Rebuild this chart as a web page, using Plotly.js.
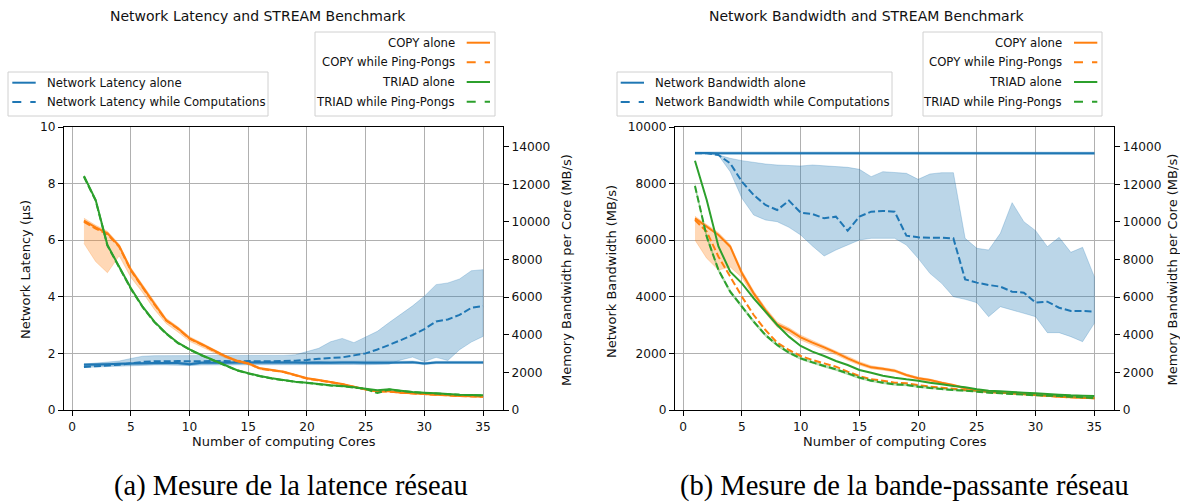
<!DOCTYPE html>
<html>
<head>
<meta charset="utf-8">
<script src="https://cdn.plot.ly/plotly-3.0.1.min.js"></script>
<style>
  html, body { margin: 0; padding: 0; background: #fff; }
  #chart { width: 1180px; height: 502px; }
</style>
</head>
<body>
<div id="chart"></div>
<script>
// ---------- data ----------
const cores = [1,2,3,4,5,6,7,8,9,10,11,12,13,14,15,16,17,18,19,20,21,22,23,24,25,26,27,28,29,30,31,32,33,34,35];

// (a) latency plot - left axis: network latency (µs)
const latAlone = [1.60,1.61,1.62,1.63,1.64,1.65,1.66,1.66,1.66,1.62,1.67,1.67,1.67,1.68,1.68,1.68,1.68,1.68,1.68,1.67,1.68,1.67,1.68,1.68,1.67,1.67,1.67,1.68,1.69,1.64,1.68,1.68,1.68,1.68,1.68];
const latAloneHi = [1.64,1.65,1.66,1.67,1.68,1.69,1.70,1.70,1.70,1.66,1.71,1.71,1.71,1.72,1.72,1.72,1.72,1.72,1.72,1.71,1.72,1.71,1.72,1.72,1.71,1.71,1.71,1.72,1.73,1.68,1.72,1.72,1.72,1.72,1.72];
const latAloneLo = [1.56,1.57,1.58,1.59,1.60,1.61,1.62,1.62,1.62,1.58,1.63,1.63,1.63,1.64,1.64,1.64,1.64,1.64,1.64,1.63,1.64,1.63,1.64,1.64,1.63,1.63,1.63,1.64,1.65,1.60,1.64,1.64,1.64,1.64,1.64];
const latComp  = [1.52,1.55,1.57,1.60,1.65,1.70,1.72,1.72,1.73,1.72,1.72,1.73,1.73,1.72,1.73,1.72,1.72,1.73,1.74,1.77,1.81,1.84,1.86,1.93,2.00,2.14,2.30,2.47,2.65,2.86,3.13,3.20,3.36,3.61,3.67];
const latCompHi = [1.62,1.65,1.68,1.73,1.82,1.90,1.92,1.92,1.92,1.92,1.92,1.92,1.92,1.92,1.92,1.92,1.92,1.93,1.95,2.06,2.18,2.41,2.53,2.38,2.59,2.78,3.09,3.39,3.68,4.02,4.43,4.49,4.63,4.92,4.96];
const latCompLo = [1.50,1.52,1.53,1.55,1.57,1.58,1.59,1.59,1.59,1.57,1.59,1.60,1.60,1.60,1.60,1.60,1.60,1.60,1.60,1.60,1.60,1.60,1.61,1.61,1.60,1.60,1.62,1.77,1.87,1.71,1.86,1.75,2.13,2.40,2.60];
// (a) right axis: memory bandwidth per core (MB/s)
const copyAloneA = [10070,9714,9395,8720,7450,6550,5650,4785,4343,3812,3509,3190,2871,2623,2481,2216,2127,2038,1861,1685,1595,1489,1382,1241,1098,992,992,922,886,851,815,780,744,727,709];
const copyPingA  = [10000,9650,9340,8680,7420,6520,5620,4760,4320,3790,3490,3170,2860,2610,2470,2200,2110,2020,1850,1670,1580,1480,1370,1230,1090,980,980,915,880,845,810,775,740,722,705];
const copyHiA    = [10200,9820,9500,8820,7560,6650,5750,4880,4430,3900,3580,3260,2930,2680,2530,2260,2170,2080,1900,1720,1630,1520,1410,1270,1120,1020,1010,945,905,870,835,800,763,745,727];
const copyLoA    = [8860,7890,7300,8200,7050,6250,5350,4600,4150,3650,3380,3080,2780,2550,2410,2150,2070,1990,1810,1640,1550,1450,1340,1200,1060,950,960,895,860,825,790,755,720,705,685];
const triadAloneA = [12440,11166,8773,7620,6470,5493,4695,4077,3580,3226,2924,2659,2393,2127,1950,1808,1685,1595,1506,1453,1382,1311,1276,1205,1134,1050,1098,1028,957,922,886,851,815,798,780];
const triadPingA  = [12400,11130,8740,7590,6440,5470,4670,4060,3560,3210,2910,2645,2380,2115,1940,1795,1675,1585,1495,1440,1370,1300,1265,1195,1120,900,1085,1015,945,910,875,840,805,788,770];

// (b) bandwidth plot - left axis: network bandwidth (MB/s)
const bwAlone   = [9080,9080,9075,9075,9075,9072,9072,9072,9072,9072,9072,9072,9072,9072,9072,9072,9072,9072,9072,9072,9072,9072,9072,9072,9072,9072,9072,9072,9072,9072,9072,9072,9072,9072,9072];
const bwAloneHi = [9120,9120,9115,9115,9115,9112,9112,9112,9112,9112,9112,9112,9112,9112,9112,9112,9112,9112,9112,9112,9112,9112,9112,9112,9112,9112,9112,9112,9112,9112,9112,9112,9112,9112,9112];
const bwAloneLo = [9040,9040,9035,9035,9035,9032,9032,9032,9032,9032,9032,9032,9032,9032,9032,9032,9032,9032,9032,9032,9032,9032,9032,9032,9032,9032,9032,9032,9032,9032,9032,9032,9032,9032,9032];
const bwComp   = [9070,9070,9010,8717,8068,7597,7244,7067,7397,6973,6926,6773,6832,6337,6832,7008,7032,7008,6160,6101,6089,6089,6066,4617,4500,4417,4358,4181,4146,3793,3828,3615,3498,3498,3475];
const bwCompHi = [9080,9080,9010,8894,8811,8740,8693,8657,8634,8622,8657,8622,8598,8575,8504,8245,8422,8386,8363,8151,8339,8386,8386,6066,5713,5654,6243,7326,6654,6337,5772,6101,5572,5748,4711];
const bwCompLo = [9060,9060,9000,8422,7480,6890,6714,6654,6455,6184,5795,5442,5654,5830,6007,6066,6066,6066,5830,5359,4829,4476,4004,3911,3793,3298,3651,3534,3416,3298,2733,2733,2591,2415,3064];
// (b) right axis: memory bandwidth per core (MB/s)
const copyAloneB = [10190,9748,9305,8685,7266,6203,5317,4555,4254,3864,3580,3332,3049,2747,2481,2269,2198,2092,1861,1685,1595,1453,1329,1152,1063,975,922,886,851,798,762,709,673,655,620];
const copyHiB    = [10300,9850,9420,8800,7400,6330,5440,4680,4370,3980,3690,3440,3150,2850,2570,2350,2270,2160,1920,1750,1650,1510,1380,1200,1110,1020,965,925,890,835,800,745,708,690,655];
const copyLoB    = [9039,8066,7444,7600,7050,6000,5150,4400,4100,3720,3450,3210,2940,2640,2390,2190,2120,2020,1800,1620,1540,1400,1280,1110,1020,935,885,850,815,765,728,676,640,622,590];
const copyPingB  = [10102,9482,8153,7089,6026,5051,4254,3580,3190,2871,2659,2481,2304,2038,1808,1631,1560,1453,1418,1329,1241,1188,1134,1063,1028,957,922,886,833,798,762,709,673,655,620];
const triadAloneB = [13256,11166,8700,7355,6735,5937,5229,4520,3900,3403,3102,2871,2605,2393,2127,1985,1826,1720,1631,1560,1453,1365,1276,1205,1098,1028,992,957,922,886,851,815,780,760,744];
const triadPingB  = [11911,9216,7444,6291,5495,4695,3988,3456,3049,2747,2535,2340,2163,1950,1720,1560,1453,1365,1329,1241,1170,1117,1063,1028,975,922,886,851,815,780,762,744,709,673,638];
const triadPingHiB = [12000,9300,7530,6370,5570,4770,4060,3520,3110,2810,2595,2400,2220,2005,1775,1610,1500,1410,1370,1285,1210,1155,1100,1065,1010,955,920,885,848,812,795,776,740,705,670];
const triadPingLoB = [11820,9130,7360,6210,5420,4620,3915,3390,2990,2685,2475,2280,2105,1895,1665,1510,1405,1320,1288,1197,1130,1079,1026,991,940,889,852,817,782,748,729,712,678,641,606];

// tick labels
const xTicks = [0,5,10,15,20,25,30,35];

// ---------- styling ----------
const BLUE = '#1f77b4', ORANGE = '#ff7f0e', GREEN = '#2ca02c';
const BLUE_F = 'rgba(31,119,180,0.3)', ORANGE_F = 'rgba(255,127,14,0.3)', GREEN_F = 'rgba(44,160,44,0.3)';
const FONT = 'DejaVu Sans, Verdana, sans-serif';
const FS = 11.7;     // legend text
const TFS = 12.2;    // tick labels
const AFS = 13;      // axis titles
const W = 1180, H = 502;
const px = v => v / W;
const py = v => 1 - v / H;
const DASH = '7px,3px';

function band(hi, lo, fill, xa, ya) {
  return {
    x: cores.concat(cores.slice().reverse()),
    y: hi.concat(lo.slice().reverse()),
    xaxis: xa, yaxis: ya, mode: 'lines', fill: 'toself', fillcolor: fill,
    line: {color: fill, width: 0.8}, hoverinfo: 'skip', showlegend: false
  };
}
function line(y, color, dash, xa, ya) {
  return {
    x: cores, y: y, xaxis: xa, yaxis: ya, mode: 'lines',
    line: {color: color, width: 2, dash: dash || 'solid', simplify: false},
    hoverinfo: 'skip', showlegend: false
  };
}

const traces = [
  // (a)
  band(latCompHi, latCompLo, BLUE_F, 'x', 'y'),
  band(latAloneHi, latAloneLo, BLUE_F, 'x', 'y'),
  line(latAlone, BLUE, null, 'x', 'y'),
  line(latComp, BLUE, DASH, 'x', 'y'),
  band(copyHiA, copyLoA, ORANGE_F, 'x', 'y2'),
  line(copyPingA, ORANGE, DASH, 'x', 'y2'),
  line(copyAloneA, ORANGE, null, 'x', 'y2'),
  line(triadPingA, GREEN, DASH, 'x', 'y2'),
  line(triadAloneA, GREEN, null, 'x', 'y2'),
  // (b)
  band(bwCompHi, bwCompLo, BLUE_F, 'x2', 'y3'),
  band(bwAloneHi, bwAloneLo, BLUE_F, 'x2', 'y3'),
  line(bwAlone, BLUE, null, 'x2', 'y3'),
  line(bwComp, BLUE, DASH, 'x2', 'y3'),
  band(copyHiB, copyLoB, ORANGE_F, 'x2', 'y4'),
  line(copyPingB, ORANGE, DASH, 'x2', 'y4'),
  line(copyAloneB, ORANGE, null, 'x2', 'y4'),
  band(triadPingHiB, triadPingLoB, GREEN_F, 'x2', 'y4'),
  line(triadAloneB, GREEN, null, 'x2', 'y4'),
  line(triadPingB, GREEN, DASH, 'x2', 'y4')
];

const yDom = [py(410), py(127)];
const axisBase = {
  showline: true, linecolor: '#000', linewidth: 1,
  ticks: 'outside', ticklen: 5, tickwidth: 1, tickcolor: '#000',
  tickfont: {family: FONT, size: TFS, color: '#111'},
  zeroline: false, fixedrange: true
};
const xAxis = (dom, anchor) => Object.assign({}, axisBase, {
  domain: dom, anchor: anchor, range: [-0.7, 36.7], tickvals: xTicks,
  showgrid: true, gridcolor: '#b0b0b0', gridwidth: 1, mirror: true
});
const yLeft = (dom, anchor, range, dtick) => Object.assign({}, axisBase, {
  domain: dom, anchor: anchor, range: range, dtick: dtick, tickformat: 'd',
  showgrid: true, gridcolor: '#b0b0b0', gridwidth: 1
});
const yRight = (over, anchor) => Object.assign({}, axisBase, {
  overlaying: over, side: 'right', anchor: anchor, range: [0, 15048], dtick: 2000,
  tickformat: 'd', showgrid: false
});

const annotations = [];
const shapes = [];
function txt(text, x, y, opts) {
  annotations.push(Object.assign({
    text: text, x: px(x), y: py(y), xref: 'paper', yref: 'paper', showarrow: false,
    xanchor: 'center', yanchor: 'middle', font: {family: FONT, size: FS, color: '#111'}
  }, opts || {}));
}
function legBox(x0, y0, x1, y1) {
  shapes.push({type: 'rect', xref: 'paper', yref: 'paper', x0: px(x0), x1: px(x1), y0: py(y1), y1: py(y0),
    line: {color: '#d0d0d0', width: 1}, fillcolor: 'rgba(255,255,255,0.8)', layer: 'above'});
}
function legLine(x0, x1, y, color, dash) {
  shapes.push({type: 'line', xref: 'paper', yref: 'paper', x0: px(x0), x1: px(x1), y0: py(y), y1: py(y),
    line: {color: color, width: 2, dash: dash || 'solid'}, layer: 'above'});
}
const AF = {family: FONT, size: AFS, color: '#111'};

// titles
txt('Network Latency and STREAM Benchmark', 257.5, 16, {font: {family: FONT, size: 14, color: '#111'}});
txt('Network Bandwidth and STREAM Benchmark', 866, 16, {font: {family: FONT, size: 14, color: '#111'}});
// axis titles
txt('Number of computing Cores', 283.5, 441, {font: AF});
txt('Number of computing Cores', 894.5, 441, {font: AF});
txt('Network Latency (µs)', 25, 270, {textangle: -90, font: AF});
txt('Memory Bandwidth per Core (MB/s)', 566, 270, {textangle: -90, font: AF});
txt('Network Bandwidth (MB/s)', 611, 272, {textangle: -90, font: AF});
txt('Memory Bandwidth per Core (MB/s)', 1171.5, 270, {textangle: -90, font: AF});

// legends (a)
legBox(8, 72, 268, 116);
legLine(12.3, 35.7, 82.7, BLUE); txt('Network Latency alone', 45, 82.7, {xanchor: 'left'});
legLine(12.3, 35.7, 102, BLUE, 'dash'); txt('Network Latency while Computations', 45, 102, {xanchor: 'left'});
legBox(315, 32, 495, 116);
const legR = [['COPY alone', ORANGE, null, 42.7], ['COPY while Ping-Pongs', ORANGE, 'dash', 62.3],
              ['TRIAD alone', GREEN, null, 82], ['TRIAD while Ping-Pongs', GREEN, 'dash', 101.7]];
legR.forEach(e => { legLine(466.7, 490, e[3], e[1], e[2]); txt(e[0], 456.7, e[3], {xanchor: 'right'}); });
// legends (b)
legBox(617, 72, 892, 116);
legLine(620.7, 644, 82.7, BLUE); txt('Network Bandwidth alone', 653.3, 82.7, {xanchor: 'left'});
legLine(620.7, 644, 102, BLUE, 'dash'); txt('Network Bandwidth while Computations', 653.3, 102, {xanchor: 'left'});
legBox(923, 32, 1102, 116);
legR.forEach(e => { legLine(1074, 1097.3, e[3], e[1], e[2]); txt(e[0], 1064, e[3], {xanchor: 'right'}); });

// captions
const CAP = {family: 'Liberation Serif, Times New Roman, serif', size: 28.5, color: '#000'};
txt('(a) Mesure de la latence réseau', 291, 486, {font: CAP});
txt('(b) Mesure de la bande-passante réseau', 904, 486, {font: CAP});

const layout = {
  width: W, height: H,
  margin: {l: 0, r: 0, t: 0, b: 0},
  paper_bgcolor: '#fff', plot_bgcolor: 'rgba(0,0,0,0)',
  showlegend: false,
  xaxis: xAxis([px(64), px(503)], 'y'),
  yaxis: yLeft(yDom, 'x', [0, 10], 2),
  yaxis2: yRight('y', 'x'),
  xaxis2: xAxis([px(675), px(1114.3)], 'y3'),
  yaxis3: yLeft(yDom, 'x2', [0, 10000], 2000),
  yaxis4: yRight('y3', 'x2'),
  annotations: annotations,
  shapes: shapes
};

Plotly.newPlot('chart', traces, layout, {displayModeBar: false, staticPlot: true});
</script>
</body>
</html>
